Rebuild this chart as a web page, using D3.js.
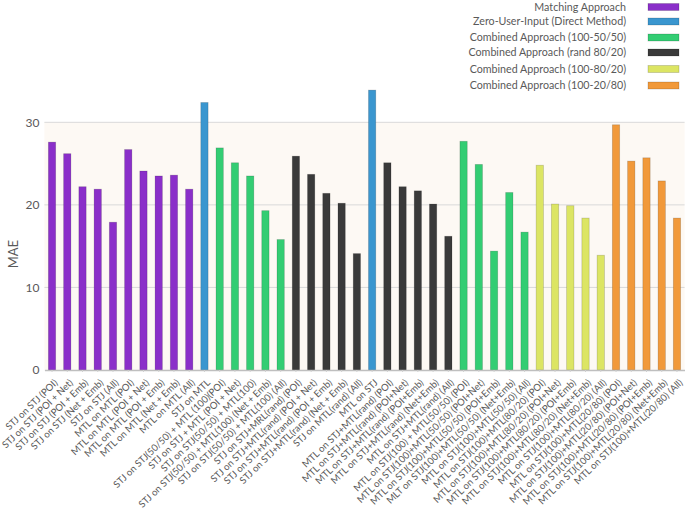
<!DOCTYPE html>
<html><head><meta charset="utf-8">
<script src="https://cdn.jsdelivr.net/npm/d3@7"></script>
<style>body{margin:0;background:#fff}svg{display:block}text{font-family:Lato,"Open Sans",sans-serif}</style>
</head><body><svg id="c" width="685" height="516"></svg>
<script>
const labels = [
 "STJ on STJ (POI)","STJ on STJ (POI + Net)","STJ on STJ (POI + Emb)","STJ on STJ (Net + Emb)","STJ on STJ (All)",
 "MTL on MTL (POI)","MTL on MTL (POI + Net)","MTL on MTL (POI + Emb)","MTL on MTL (Net + Emb)","MTL on MTL (All)",
 "STJ on MTL",
 "STJ on STJ(50/50) + MTL (100)(POI)","STJ on STJ + MTL (POI + Net)","STJ on STJ(50/50) + MTL(100)","STJ on STJ(50/50) + MTL(100) (Net + Emb)","STJ on STJ(50/50) + MTL(100) (All)",
 "STJ on STJ+MRL(rand) (POI)","STJ on STJ+MTL(rand) (POI + Net)","STJ on STJ+MTL(rand) (POI + Emb)","STJ on STJ+MTL(rand) (Net + Emb)","STJ on MTL(rand) (All)",
 "MTL on STJ",
 "MTL on STJ+MTL(rand) (POI)","MTL on STJ+MTL(rand) (POI+Net)","MTL on STJ+MTL(rand) (POI+Emb)","MTL on STJ+MTL(rand) (Net+Emb)","MTL on STJ+MTL(rand) (All)",
 "MTL on STJ(100) + MTL(50/50) (POI)","MTL on STJ(100)+MTL(50/50) (POI+Net)","MTL on STJ(100)+MTL(50/50) (POI+Emb)","MLT on STJ(100)+MTL(50/50) (Net+Emb)","MTL on STJ(100)+MTL(50/50) (All)",
 "MTL on STJ(100)+MTL(80/20) (POI)","MTL on STJ(100)+MTL(80/20) (POI+Net)","MTL on STJ(100)+MTL(80/20) (POI+Emb)","MTL on STJ(100)+MTL(80/20) (Net+Emb)","MTL on STJ(100)+MTL(80/20) (All)",
 "MTL on STJ(100)+MTL(20/80) (POI)","MTL on STJ(100)+MTL(20/80) (POI+Net)","MTL on STJ(100)+MTL(20/80) (POI+Emb)","MTL on STJ(100)+MTL(20/80) (Net+Emb)","MTL on STJ(100)+MTL(20/80) (All)"
];
const values = [
 27.6,26.2,22.2,21.9,17.9, 26.7,24.1,23.5,23.6,21.9,
 32.4,
 26.9,25.1,23.5,19.3,15.8,
 25.9,23.7,21.4,20.2,14.1,
 33.9,
 25.1,22.2,21.7,20.1,16.2,
 27.7,24.9,14.4,21.5,16.7,
 24.8,20.1,19.9,18.4,13.9,
 29.7,25.3,25.7,22.9,18.4
];
const groups = [
 0,0,0,0,0,0,0,0,0,0,
 1,
 2,2,2,2,2,
 3,3,3,3,3,
 1,
 3,3,3,3,3,
 2,2,2,2,2,
 4,4,4,4,4,
 5,5,5,5,5
];
const seriesNames = ["Matching Approach","Zero-User-Input (Direct Method)","Combined Approach (100-50/50)","Combined Approach (rand 80/20)","Combined Approach (100-80/20)","Combined Approach (100-20/80)"];
const seriesColors = ["#8a2fc9","#3a96cf","#33cd73","#3a3a3a","#dce563","#f1993a"];
const yTicks = [0,10,20,30];

const svg = d3.select("#c");
const L = 44.4, R = 684.6, T = 122.3, B = 370;
const x = d3.scaleBand().domain(d3.range(labels.length)).range([L,R]).paddingInner(0.52).paddingOuter(0.26);
const y = d3.scaleLinear().domain([0,30]).range([B,T]);

// plot background
svg.append("rect").attr("x",L).attr("y",y(30)).attr("width",R-L).attr("height",y(0)-y(30)).attr("fill","#fdf9f4");

// gridlines
svg.append("g").selectAll("line").data(yTicks.filter(d=>d>0)).join("line")
 .attr("x1",L).attr("x2",R).attr("y1",d=>y(d)).attr("y2",d=>y(d))
 .attr("stroke","#d9d9d9").attr("stroke-width",1);

// y axis labels
const yAxis = d3.axisLeft(y).tickValues(yTicks).tickSize(0).tickPadding(6);
const ya = svg.append("g").attr("transform",`translate(${L},0)`).call(yAxis);
ya.select(".domain").remove();
ya.selectAll("text").attr("fill","#595959").style("font-size","12px").attr("x",-5);

svg.append("text").attr("transform",`translate(18,${(T+B)/2+8}) rotate(-90)`)
 .attr("text-anchor","middle").attr("fill","#595959").style("font-size","13px").text("MAE");

// bars
svg.append("g").selectAll("rect").data(values).join("rect")
 .attr("x",(d,i)=>x(i)).attr("width",x.bandwidth())
 .attr("y",d=>y(d)).attr("height",d=>y(0)-y(d))
 .attr("fill",(d,i)=>seriesColors[groups[i]])
 .attr("stroke","rgba(0,0,0,0.18)").attr("stroke-width",0.8);

// x axis
const xAxis = d3.axisBottom(x).tickFormat(i=>labels[i]).tickSize(2).tickSizeOuter(0);
const xa = svg.append("g").attr("transform",`translate(0,${B})`).call(xAxis);
xa.select(".domain").attr("stroke","#bfbfbf").attr("stroke-width",1.5);
xa.selectAll(".tick line").attr("stroke","#d0d0d0");
xa.selectAll("text").attr("fill","#595959").style("font-size","9.6px")
 .attr("text-anchor","end").attr("dy","0.35em")
 .attr("transform","translate(4,11) rotate(-44)").attr("x",0).attr("y",0);

// legend
const lg = svg.append("g");
seriesNames.forEach((n,i)=>{
  const cy = [7,21.5,37.5,52.5,69,85.5][i];
  lg.append("text").attr("x",626).attr("y",cy).attr("dy","0.35em").attr("text-anchor","end")
    .attr("fill","#595959").style("font-size","10.7px").text(n);
  lg.append("rect").attr("x",648).attr("y",cy-3.5).attr("width",31).attr("height",7)
    .attr("fill",seriesColors[i]).attr("stroke","rgba(0,0,0,0.2)").attr("stroke-width",0.8);
});
</script></body></html>
